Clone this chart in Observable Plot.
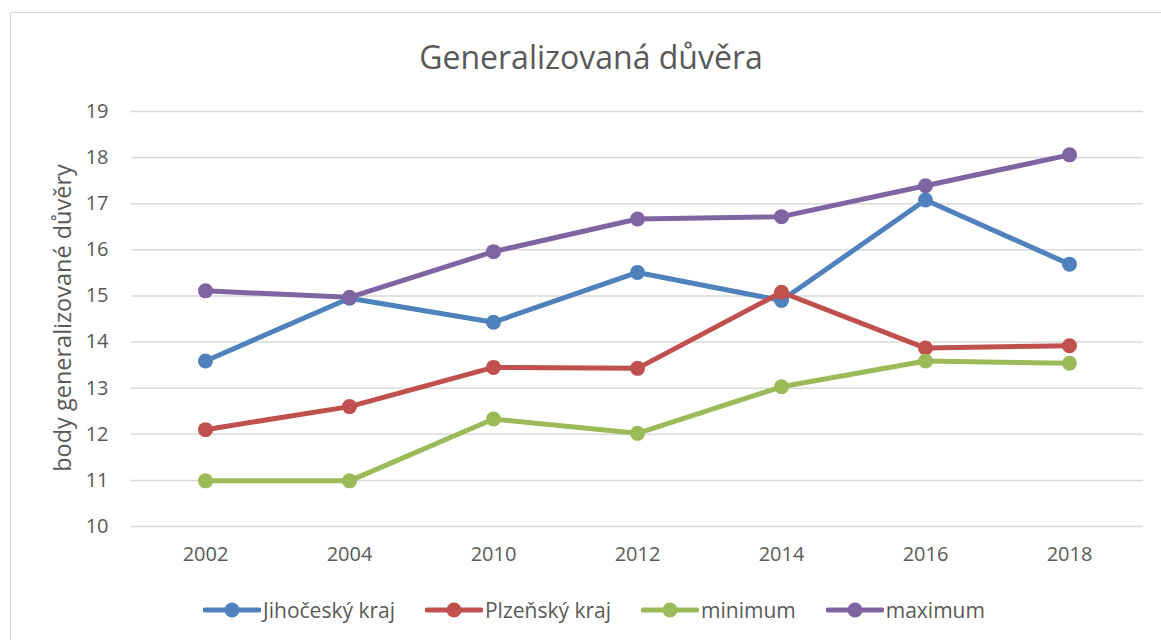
<!DOCTYPE html>
<html>
<head>
<meta charset="utf-8">
<script src="https://cdn.jsdelivr.net/npm/d3@7"></script>
<script src="https://cdn.jsdelivr.net/npm/@observablehq/plot@0.6"></script>
<style>
  html, body { margin: 0; padding: 0; background: #fff; }
  #wrap { position: relative; width: 1161px; height: 640px; overflow: hidden; font-family: "Open Sans", "Noto Sans", sans-serif; color: #595959; }
  #frame { position: absolute; left: 10px; top: 12px; width: 1200px; height: 700px; border-left: 1.5px solid #d9d9d9; border-top: 1.5px solid #d9d9d9; box-sizing: border-box; }
  #title { position: absolute; left: 291px; width: 600px; top: 36px; text-align: center; font-size: 32px; line-height: 42px; color: #595959; }
  #chart { position: absolute; left: 0; top: 80px; }
  #ylabel { position: absolute; left: 62px; top: 318px; transform: translate(-50%, -50%) rotate(-90deg); white-space: nowrap; font-size: 23.5px; line-height: 26px; color: #595959; }
  #legend { position: absolute; left: 0; width: 1161px; top: 595px; display: flex; justify-content: center; gap: 30px; font-size: 21px; line-height: 30px; padding-left: 27px; box-sizing: border-box; }
  .item { display: flex; align-items: center; }
  .item svg { margin-right: 2px; }
</style>
</head>
<body>
<div id="wrap">
  <div id="frame"></div>
  <div id="title">Generalizovaná důvěra</div>
  <div id="chart"></div>
  <div id="ylabel"></div>
  <div id="legend"></div>
</div>
<script>
const years = ["2002", "2004", "2010", "2012", "2014", "2016", "2018"];
const seriesNames = ["Jihočeský kraj", "Plzeňský kraj", "minimum", "maximum"];
const seriesColors = ["#4f81bd", "#c0504d", "#9bbb59", "#8064a2"];
const jihocesky = [13.59, 14.95, 14.43, 15.51, 14.90, 17.08, 15.69];
const plzensky  = [12.10, 12.60, 13.45, 13.43, 15.08, 13.87, 13.92];
const minimum   = [10.99, 10.99, 12.33, 12.02, 13.03, 13.59, 13.54];
const maximum   = [15.11, 14.97, 15.96, 16.67, 16.72, 17.39, 18.06];
const yTicks = [10, 11, 12, 13, 14, 15, 16, 17, 18, 19];
const yLabel = "body generalizované důvěry";

document.getElementById("ylabel").textContent = yLabel;

const seriesValues = [jihocesky, plzensky, minimum, maximum];
const data = [];
seriesNames.forEach((name, i) => {
  years.forEach((yr, j) => data.push({series: name, year: yr, value: seriesValues[i][j]}));
});

const marks = [
  Plot.gridY(yTicks, {stroke: "#d9d9d9", strokeOpacity: 1, strokeWidth: 1.5}),
  Plot.axisY(yTicks, {tickSize: 0, tickPadding: 23, fontSize: 20, label: null}),
  Plot.axisX({tickSize: 0, tickPadding: 20, fontSize: 20, label: null})
];
seriesNames.forEach((name, i) => {
  const d = data.filter(r => r.series === name);
  marks.push(Plot.line(d, {x: "year", y: "value", stroke: seriesColors[i], strokeWidth: 5}));
  marks.push(Plot.dot(d, {x: "year", y: "value", fill: seriesColors[i], r: 7.5}));
});

const chart = Plot.plot({
  width: 1161,
  height: 500,
  marginTop: 31,
  marginBottom: 54,
  marginLeft: 131,
  marginRight: 18,
  style: {fontFamily: "'Open Sans', 'Noto Sans', sans-serif", color: "#595959", fontSize: "20px", background: "transparent"},
  x: {type: "point", domain: years, padding: 0.5},
  y: {domain: [10, 19]},
  marks
});
document.getElementById("chart").appendChild(chart);

const legend = document.getElementById("legend");
seriesNames.forEach((name, i) => {
  const item = document.createElement("div");
  item.className = "item";
  item.innerHTML = `<svg width="58" height="20"><line x1="2" x2="56" y1="10" y2="10" stroke="${seriesColors[i]}" stroke-width="5" stroke-linecap="round"/><circle cx="29" cy="10" r="7.5" fill="${seriesColors[i]}"/></svg><span>${name}</span>`;
  legend.appendChild(item);
});
</script>
</body>
</html>
